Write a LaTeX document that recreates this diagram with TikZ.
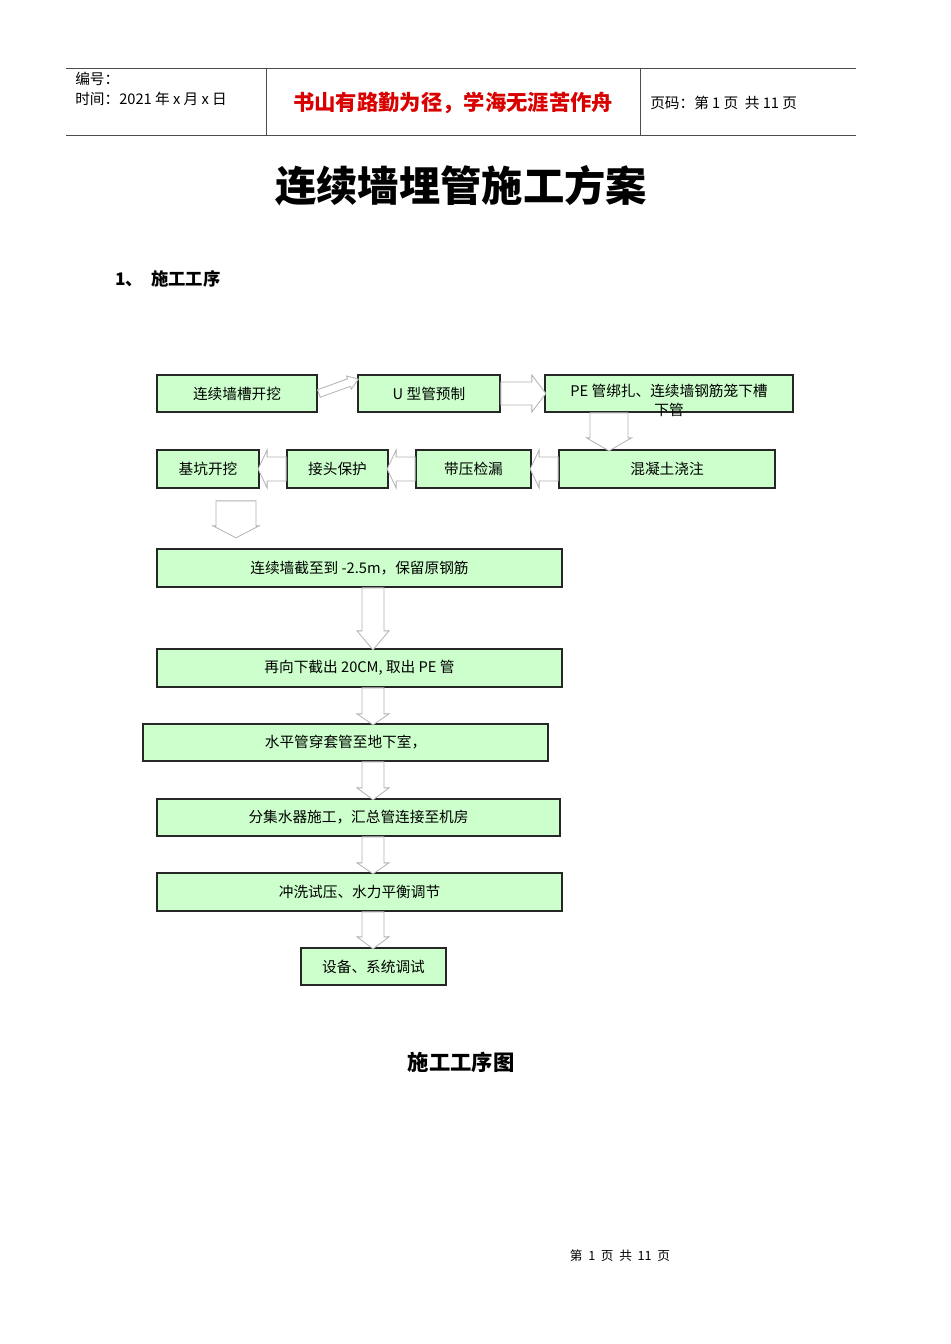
\documentclass[tikz,border=0pt]{standalone}
\usepackage{fontspec}
\setmainfont{Liberation Serif}
\newfontfamily\cjk{Noto Sans CJK SC}
\usetikzlibrary{calc}
\tikzset{
 box/.style={draw=black!85,line width=1.3pt,fill=green!20,inner sep=0pt,font=\cjk\fontsize{11}{12}\selectfont},
 arr/.style={draw=black!30,fill=white,line width=0.6pt},
}
\newcommand\barrow[6]{\draw[arr,shift={(#1)},rotate=#2] (0,-#4)--({#3-#6},-#4)--({#3-#6},-#5)--(#3,0)--({#3-#6},#5)--({#3-#6},#4)--(0,#4)--cycle;}
\newcommand\bx[6]{\node[box,minimum width={(#4-#3)*0.75pt},minimum height={(#6-#5)*0.75pt}] (#1) at ({(#3+#4)/2},{(#5+#6)/2}) {#2};}
\begin{document}
\begin{tikzpicture}[x=0.75pt,y=-0.75pt]
\useasboundingbox (0,0) rectangle (950,1344);
% header
\draw[black!70,line width=0.6pt] (66,68)--(856,68) (66,135)--(856,135) (266,68)--(266,135) (640,68)--(640,135);
\node[anchor=west,font=\cjk\fontsize{11}{12}\selectfont,inner sep=0] (h1) at (75,79) {编号：};
\node[anchor=west,font=\cjk\fontsize{11}{12}\selectfont,inner sep=0] (h2) at (75,99) {时间：2021 年 x 月 x 日};
\node[font=\cjk\bfseries\fontsize{16}{18}\selectfont,text=red!85!black] (h3) at (453,103) {书山有路勤为径，学海无涯苦作舟};
\node[anchor=west,font=\cjk\fontsize{11}{12}\selectfont,inner sep=0] (h4) at (650,103) {页码：第 1 页\ \ 共 11 页};
\node[font=\cjk\bfseries\fontsize{31}{34}\selectfont] (title) at (461,186) {连续墙埋管施工方案};
\node[anchor=west,font=\cjk\bfseries\fontsize{13}{15}\selectfont,inner sep=0] (sec) at (115,279) {1、\ \ 施工工序};
\node[font=\cjk\bfseries\fontsize{16}{18}\selectfont] (cap) at (461,1062) {施工工序图};
\node[font=\cjk\fontsize{9.5}{11}\selectfont] (foot) at (620,1256) {第\ \ 1\ \ 页\ \ 共\ \ 11\ \ 页};
% boxes
\bx{b1}{连续墙槽开挖}{157}{317}{375}{412}
\bx{b2}{U 型管预制}{358}{500}{375}{412}
\bx{b3}{}{545}{793}{375}{412}
\bx{b4}{基坑开挖}{157}{259}{450}{488}
\bx{b5}{接头保护}{287}{388}{450}{488}
\bx{b6}{带压检漏}{416}{531}{450}{488}
\bx{b7}{混凝土浇注}{559}{775}{450}{488}
\bx{b8}{连续墙截至到 -2.5m，保留原钢筋}{157}{562}{549}{587}
\bx{b9}{再向下截出 20CM, 取出 PE 管}{157}{562}{649}{687}
\bx{b10}{水平管穿套管至地下室，}{143}{548}{724}{761}
\bx{b11}{分集水器施工，汇总管连接至机房}{157}{560}{799}{836}
\bx{b12}{冲洗试压、水力平衡调节}{157}{562}{873}{911}
\bx{b13}{设备、系统调试}{301}{446}{948}{985}
\node[font=\cjk\fontsize{11}{12}\selectfont] (t3a) at (669,391) {PE 管绑扎、连续墙钢筋笼下槽};
\node[font=\cjk\fontsize{11}{12}\selectfont] (t3b) at (669,410) {下管};
% arrows
\barrow{$(b1.east)+(1,0)$}{20}{42}{4}{7}{10}
\barrow{b2.east}{0}{45}{11.5}{18.5}{14}
\barrow{$(b3.south)+(-60,0)$}{-90}{38}{19}{22.5}{13}
\barrow{b5.west}{180}{28}{12}{19}{9}
\barrow{b6.west}{180}{28}{12}{19}{9}
\barrow{b7.west}{180}{28}{12}{19}{9}
\barrow{$(b4.south)+(28,12)$}{-90}{37}{20}{23}{12}
\barrow{$(b8.south)+(13.5,0)$}{-90}{62}{11}{16}{19}
\barrow{$(b9.south)+(13.5,0)$}{-90}{37}{11}{16}{11}
\barrow{$(b10.south)+(27.5,0)$}{-90}{38}{11}{16}{12}
\barrow{$(b11.south)+(14.5,0)$}{-90}{37}{11}{16}{11}
\barrow{$(b12.south)+(13.5,0)$}{-90}{37}{11}{16}{12}
\end{tikzpicture}
\end{document}
